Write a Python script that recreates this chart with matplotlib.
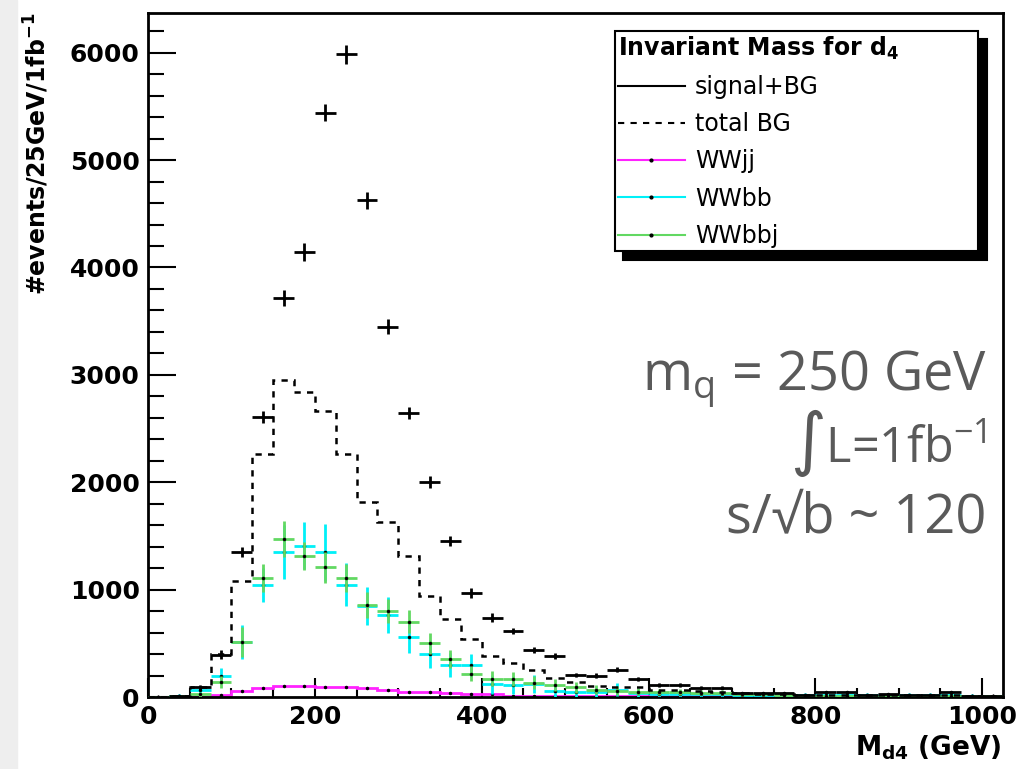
import matplotlib
matplotlib.use("Agg")
import matplotlib.pyplot as plt
import numpy as np
from matplotlib.lines import Line2D
from matplotlib.patches import Rectangle
from matplotlib.ticker import MultipleLocator

BIN_WIDTH = 25
bin_edges = np.arange(0, 1026, BIN_WIDTH)

# signal + background (black crosses)
sig_bg = [0, 5, 90, 395, 1350, 2605, 3715, 4145, 5440, 5985, 4625, 3450, 2645,
          2000, 1450, 966, 740, 615, 438, 382, 205, 200, 255, 165, 112, 112,
          87, 87, 40, 40, 40, 15, 50, 50, 15, 25, 15, 15, 50, 10, 5]
sig_bg_err = [0, 8, 20, 40, 45, 55, 78, 80, 78, 90, 80, 70, 55, 55, 48, 45, 40,
              32, 28, 25, 20, 20, 22, 18, 15, 15, 12, 12, 10, 10, 10, 8, 10, 10,
              8, 8, 8, 8, 10, 5, 5]

# total background (dashed histogram)
total_bg = [0, 5, 96, 405, 1084, 2262, 2952, 2845, 2667, 2262, 1815, 1630, 1312,
            943, 726, 540, 378, 318, 254, 174, 140, 100, 95, 90, 70, 65, 55, 50,
            35, 30, 30, 15, 20, 20, 15, 15, 15, 15, 20, 10, 5]

# WWjj (magenta histogram)
wwjj = [0, 0, 0, 15, 55, 80, 100, 100, 97, 92, 80, 62, 50, 45, 35, 32, 30, 10,
        8, 8, 6, 6, 5, 5, 5, 5, 5, 5, 5, 5, 5, 5, 5, 5, 5, 5, 5, 5, 5, 5, 5]

# WWbb (cyan crosses)
wwbb = [0, 10, 65, 196, 515, 1044, 1348, 1410, 1348, 1044, 848, 764, 562, 400,
        300, 295, 118, 112, 118, 55, 50, 45, 68, 35, 30, 30, 25, 25, 20, 20, 15,
        15, 15, 15, 15, 15, 15, 15, 15, 10, 5]
wwbb_err = [0, 15, 40, 78, 160, 155, 250, 217, 264, 200, 180, 170, 150, 130, 110,
            110, 90, 85, 85, 60, 55, 50, 60, 40, 35, 35, 30, 30, 25, 25, 20, 20,
            20, 20, 20, 20, 20, 20, 20, 15, 10]

# WWbbj (green crosses)
wwbbj = [0, 5, 25, 140, 515, 1106, 1470, 1314, 1208, 1106, 857, 801, 702, 500,
         352, 216, 168, 168, 133, 110, 90, 70, 60, 50, 45, 45, 40, 40, 30, 25,
         20, 10, 5, 5, 5, 5, 5, 5, 5, 5, 5]
wwbbj_err = [0, 8, 25, 60, 140, 131, 165, 130, 146, 131, 120, 115, 110, 100, 85,
             70, 70, 65, 60, 55, 50, 45, 40, 35, 30, 30, 25, 25, 20, 20, 15, 10,
             8, 8, 8, 8, 8, 8, 8, 8, 8]

legend_labels = ["signal+BG", "total BG", "WWjj", "WWbb", "WWbbj"]
CYAN = "#00f0f8"
GREEN = "#62d862"
MAGENTA = "#ff22ff"


def draw_points(ax, values, errors, color, zorder):
  centers = bin_edges[:-1] + BIN_WIDTH / 2
  ax.errorbar(centers, values, yerr=errors, xerr=BIN_WIDTH / 2, fmt="none",
              ecolor=color, elinewidth=2, capsize=0, zorder=zorder)
  ax.plot(centers, values, ".", color="black", ms=3, zorder=zorder + 0.1)


def main():
  fig = plt.figure(figsize=(10.18, 7.69), dpi=100)
  fig.patches.append(Rectangle((0, 0), 17 / 1018, 1, transform=fig.transFigure,
                               color="#eeeeee", zorder=-1))
  ax = fig.add_axes([0.1454, 0.0936, 0.8399, 0.8895])

  centers = bin_edges[:-1] + BIN_WIDTH / 2
  ax.stairs(wwjj, bin_edges, color=MAGENTA, lw=2, zorder=2)
  ax.plot(centers, wwjj, ".", color="black", ms=3, zorder=2.1)
  draw_points(ax, wwbb, wwbb_err, CYAN, 3)
  draw_points(ax, wwbbj, wwbbj_err, GREEN, 4)
  ax.stairs(total_bg, bin_edges, color="black", lw=1.8,
            linestyle=(0, (2.5, 2.5)), zorder=5)
  draw_points(ax, sig_bg, sig_bg_err, "black", 6)

  ax.set_xlim(0, 1025)
  ax.set_ylim(0, 6370)
  ax.xaxis.set_major_locator(MultipleLocator(200))
  ax.xaxis.set_minor_locator(MultipleLocator(50))
  ax.yaxis.set_major_locator(MultipleLocator(1000))
  ax.yaxis.set_minor_locator(MultipleLocator(200))
  ax.tick_params(axis="both", which="both", direction="in", width=1.5,
                 labelsize=18, pad=6, top=False, right=False)
  ax.tick_params(axis="y", which="major", length=20)
  ax.tick_params(axis="y", which="minor", length=11.5)
  ax.tick_params(axis="x", which="major", length=14)
  ax.tick_params(axis="x", which="minor", length=6.5)
  for label in ax.get_xticklabels() + ax.get_yticklabels():
    label.set_fontweight("bold")
  for spine in ax.spines.values():
    spine.set_linewidth(2)

  ax.set_ylabel(r"#events/25GeV/1fb$^{\mathbf{-1}}$", fontsize=17,
                fontweight="bold", loc="top")
  ax.yaxis.set_label_coords(-0.113, 1.0)
  ax.set_xlabel(r"M$_{\mathbf{d4}}$ (GeV)", fontsize=19, fontweight="bold",
                loc="right")
  ax.xaxis.set_label_coords(0.998, -0.053)

  handles = [
    Line2D([], [], color="black", lw=1.5),
    Line2D([], [], color="black", lw=1.5, linestyle=(0, (3, 3))),
    Line2D([], [], color=MAGENTA, lw=1.5, marker=".", ms=4, mfc="black",
           mec="black"),
    Line2D([], [], color=CYAN, lw=1.5, marker=".", ms=4, mfc="black",
           mec="black"),
    Line2D([], [], color=GREEN, lw=1.5, marker=".", ms=4, mfc="black",
           mec="black"),
  ]
  leg = ax.legend(handles, legend_labels,
                  title=r"Invariant Mass for d$_{\mathbf{4}}$",
                  title_fontproperties={"weight": "bold", "size": 17},
                  alignment="left", loc="upper left",
                  bbox_to_anchor=(0.546, 0.6506, 0.425, 0.323), mode="expand",
                  borderaxespad=0, fontsize=17, frameon=True, fancybox=False,
                  edgecolor="black", framealpha=1,
                  shadow={"ox": 6, "oy": -6, "color": "black", "alpha": 1},
                  handlelength=2.8, handletextpad=0.45, labelspacing=0.56,
                  borderpad=0.15)
  leg.get_frame().set_linewidth(1.5)
  leg.set_zorder(10)

  text_style = dict(transform=ax.transAxes, ha="right", va="baseline",
                    color="#5a5a5a", family=["Open Sans", "DejaVu Sans"])
  ax.text(0.981, 0.449, r"m$_\mathregular{q}$ = 250 GeV", fontsize=39,
          **text_style)
  ax.text(0.981, 0.3436, r"∫L=1fb$^\mathregular{-1}$", fontsize=35,
          **text_style)
  ax.text(0.981, 0.2412, "s/√b ~ 120", fontsize=39, **text_style)

  fig.savefig("out.png", dpi=100)


if __name__ == "__main__":
  main()
